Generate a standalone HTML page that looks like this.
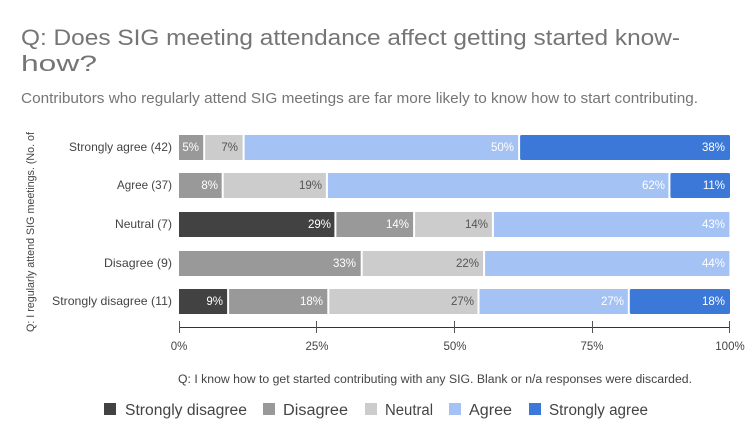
<!DOCTYPE html>
<html><head><meta charset="utf-8"><style>
body{margin:0;background:#fff;}
svg{display:block;font-family:"Liberation Sans",Arial,sans-serif;}
</style></head><body>
<svg width="753" height="441" viewBox="0 0 753 441">
<text x="21" y="45" font-size="22" fill="#757575" textLength="659" lengthAdjust="spacingAndGlyphs">Q: Does SIG meeting attendance affect getting started know-</text>
<text x="21" y="71" font-size="22" fill="#757575" textLength="76" lengthAdjust="spacingAndGlyphs">how?</text>
<text x="21" y="103" font-size="15" fill="#757575" textLength="677" lengthAdjust="spacingAndGlyphs">Contributors who regularly attend SIG meetings are far more likely to know how to start contributing.</text>
<text transform="translate(34,232) rotate(-90)" text-anchor="middle" font-size="11" fill="#444" textLength="200" lengthAdjust="spacingAndGlyphs">Q: I regularly attend SIG meetings. (No. of</text>
<g font-size="12" fill="#444" text-anchor="end">
<text x="172" y="151" textLength="103" lengthAdjust="spacingAndGlyphs">Strongly agree (42)</text>
<text x="172" y="189" textLength="55" lengthAdjust="spacingAndGlyphs">Agree (37)</text>
<text x="172" y="228" textLength="57" lengthAdjust="spacingAndGlyphs">Neutral (7)</text>
<text x="172" y="267" textLength="68" lengthAdjust="spacingAndGlyphs">Disagree (9)</text>
<text x="172" y="305" textLength="120" lengthAdjust="spacingAndGlyphs">Strongly disagree (11)</text>
</g>
<rect x="179" y="135" width="24.2" height="25" fill="#999"/>
<rect x="205.2" y="135" width="37.4" height="25" fill="#ccc"/>
<rect x="244.6" y="135" width="273.5" height="25" fill="#a4c2f4"/>
<rect x="520.1" y="135" width="209.9" height="25" rx="1.5" fill="#3c78d8"/>
<rect x="179" y="173" width="42.7" height="25" fill="#999"/>
<rect x="223.7" y="173" width="102.2" height="25" fill="#ccc"/>
<rect x="327.9" y="173" width="340.5" height="25" fill="#a4c2f4"/>
<rect x="670.4" y="173" width="59.6" height="25" rx="1.5" fill="#3c78d8"/>
<rect x="179" y="212" width="155.4" height="25" fill="#424242"/>
<rect x="336.4" y="212" width="76.7" height="25" fill="#999"/>
<rect x="415.1" y="212" width="76.8" height="25" fill="#ccc"/>
<rect x="493.9" y="212" width="235.5" height="25" fill="#a4c2f4"/>
<rect x="179" y="251" width="181.7" height="25" fill="#999"/>
<rect x="362.7" y="251" width="120.4" height="25" fill="#ccc"/>
<rect x="485.1" y="251" width="244.3" height="25" fill="#a4c2f4"/>
<rect x="179" y="289" width="48.1" height="25" fill="#424242"/>
<rect x="229.1" y="289" width="98.2" height="25" fill="#999"/>
<rect x="329.3" y="289" width="148.2" height="25" fill="#ccc"/>
<rect x="479.5" y="289" width="148.3" height="25" fill="#a4c2f4"/>
<rect x="629.8" y="289" width="100.2" height="25" rx="1.5" fill="#3c78d8"/>
<g font-size="11.5" text-anchor="end">
<text x="199" y="151" fill="#fff">5%</text>
<text x="238" y="151" fill="#555">7%</text>
<text x="514" y="151" fill="#fff">50%</text>
<text x="725" y="151" fill="#fff">38%</text>
<text x="218" y="189" fill="#fff">8%</text>
<text x="322" y="189" fill="#555">19%</text>
<text x="665" y="189" fill="#fff">62%</text>
<text x="725" y="189" fill="#fff">11%</text>
<text x="331" y="228" fill="#fff">29%</text>
<text x="409" y="228" fill="#fff">14%</text>
<text x="488" y="228" fill="#555">14%</text>
<text x="725" y="228" fill="#fff">43%</text>
<text x="356" y="267" fill="#fff">33%</text>
<text x="479" y="267" fill="#555">22%</text>
<text x="725" y="267" fill="#fff">44%</text>
<text x="223" y="305" fill="#fff">9%</text>
<text x="323" y="305" fill="#fff">18%</text>
<text x="474" y="305" fill="#555">27%</text>
<text x="624" y="305" fill="#fff">27%</text>
<text x="725" y="305" fill="#fff">18%</text>
</g>
<line x1="179" y1="327.5" x2="730" y2="327.5" stroke="#333" stroke-width="1"/>
<g stroke="#555" stroke-width="1">
<line x1="179.5" y1="321" x2="179.5" y2="333"/>
<line x1="316.5" y1="321" x2="316.5" y2="333"/>
<line x1="454.5" y1="321" x2="454.5" y2="333"/>
<line x1="592.5" y1="321" x2="592.5" y2="333"/>
<line x1="729.5" y1="321" x2="729.5" y2="333"/>
</g>
<g font-size="11.5" fill="#444" text-anchor="middle">
<text x="179" y="350">0%</text>
<text x="317" y="350">25%</text>
<text x="455" y="350">50%</text>
<text x="592" y="350">75%</text>
<text x="730" y="350">100%</text>
</g>
<text x="435" y="383" font-size="11.5" fill="#444" text-anchor="middle" textLength="514" lengthAdjust="spacingAndGlyphs">Q: I know how to get started contributing with any SIG. Blank or n/a responses were discarded.</text>
<g font-size="15.5" fill="#444">
<rect x="104" y="403" width="12" height="12" fill="#424242"/><text x="125" y="415" textLength="122" lengthAdjust="spacingAndGlyphs">Strongly disagree</text>
<rect x="263" y="403" width="12" height="12" fill="#999"/><text x="283" y="415" textLength="65" lengthAdjust="spacingAndGlyphs">Disagree</text>
<rect x="365" y="403" width="12" height="12" fill="#ccc"/><text x="385" y="415" textLength="48" lengthAdjust="spacingAndGlyphs">Neutral</text>
<rect x="449" y="403" width="12" height="12" fill="#a4c2f4"/><text x="469" y="415" textLength="43" lengthAdjust="spacingAndGlyphs">Agree</text>
<rect x="529" y="403" width="12" height="12" fill="#3c78d8"/><text x="549" y="415" textLength="99" lengthAdjust="spacingAndGlyphs">Strongly agree</text>
</g>
</svg>
</body></html>
